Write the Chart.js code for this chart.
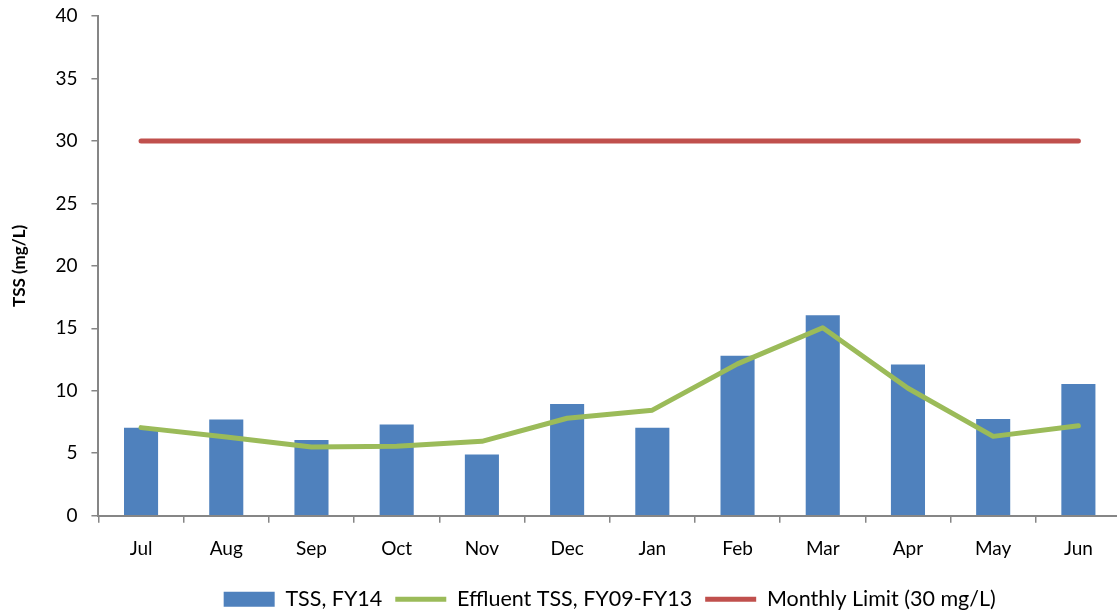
<!DOCTYPE html>
<html>
<head>
<meta charset="utf-8">
<script src="https://cdn.jsdelivr.net/npm/chart.js@4/dist/chart.umd.min.js"></script>
<style>
  html, body { margin: 0; padding: 0; background: #fff; overflow: hidden; }
  #wrap { width: 1125px; height: 620px; position: relative; }
</style>
</head>
<body>
<div id="wrap"><canvas id="tssChart"></canvas></div>
<script>
const months = ['Jul', 'Aug', 'Sep', 'Oct', 'Nov', 'Dec', 'Jan', 'Feb', 'Mar', 'Apr', 'May', 'Jun'];
const tssFY14 = [7.05, 7.7, 6.05, 7.3, 4.9, 8.95, 7.05, 12.8, 16.05, 12.1, 7.75, 10.55];
const effluentFY09to13 = [7.05, 6.3, 5.5, 5.55, 5.95, 7.8, 8.45, 12.15, 15.05, 10.2, 6.35, 7.2];
const monthlyLimit = [30, 30, 30, 30, 30, 30, 30, 30, 30, 30, 30, 30];

const fontFamily = 'Lato, "Open Sans", sans-serif';
const axisColor = '#868686';

new Chart(document.querySelector('#tssChart'), {
    type: 'bar',
    data: {
        labels: months,
        datasets: [
            {
                label: 'TSS, FY14',
                data: tssFY14,
                backgroundColor: '#4F81BD',
                borderWidth: 0,
                barPercentage: 0.4,
                categoryPercentage: 1,
                pointStyle: 'rect',
                order: 2
            },
            {
                type: 'line',
                label: 'Effluent TSS, FY09-FY13',
                data: effluentFY09to13,
                borderColor: '#9BBB59',
                borderWidth: 5,
                pointRadius: 0,
                pointStyle: 'line',
                pointBorderColor: '#9BBB59',
                pointBorderWidth: 5,
                borderCapStyle: 'round',
                borderJoinStyle: 'round',
                tension: 0,
                order: 1
            },
            {
                type: 'line',
                label: 'Monthly Limit (30 mg/L)',
                data: monthlyLimit,
                borderColor: '#C0504D',
                borderWidth: 5,
                pointRadius: 0,
                pointStyle: 'line',
                pointBorderColor: '#C0504D',
                pointBorderWidth: 5,
                borderCapStyle: 'round',
                tension: 0,
                order: 0
            }
        ]
    },
    options: {
        responsive: true,
        maintainAspectRatio: false,
        animation: false,
        layout: { padding: { top: 0, left: 9, right: 4, bottom: 0 } },
        plugins: {
            tooltip: { enabled: false },
            legend: {
                position: 'bottom',
                fullSize: false,
                labels: {
                    usePointStyle: true,
                    pointStyleWidth: 51,
                    boxHeight: 15,
                    color: '#000',
                    padding: 13,
                    font: { family: fontFamily, size: 21.5 },
                    sort: function (a, b) { return a.datasetIndex - b.datasetIndex; }
                }
            }
        },
        scales: {
            x: {
                grid: {
                    drawOnChartArea: false,
                    drawTicks: true,
                    tickLength: 7,
                    color: axisColor,
                    lineWidth: 1.5
                },
                border: { color: axisColor, width: 2 },
                ticks: {
                    color: '#000',
                    padding: 15,
                    font: { family: fontFamily, size: 19 }
                }
            },
            y: {
                min: 0,
                max: 40,
                afterFit: function (scale) {
                    scale.paddingTop = 16;
                },
                ticks: {
                    stepSize: 5,
                    color: '#000',
                    padding: 14,
                    font: { family: fontFamily, size: 19 }
                },
                grid: {
                    drawOnChartArea: false,
                    drawTicks: true,
                    tickLength: 7,
                    color: axisColor,
                    lineWidth: 1.5
                },
                border: { color: axisColor, width: 2 },
                title: {
                    display: true,
                    text: 'TSS (mg/L)',
                    color: '#000',
                    padding: { top: 0, bottom: 12 },
                    font: { family: fontFamily, size: 17, weight: 'bold' }
                }
            }
        }
    }
});
</script>
</body>
</html>
